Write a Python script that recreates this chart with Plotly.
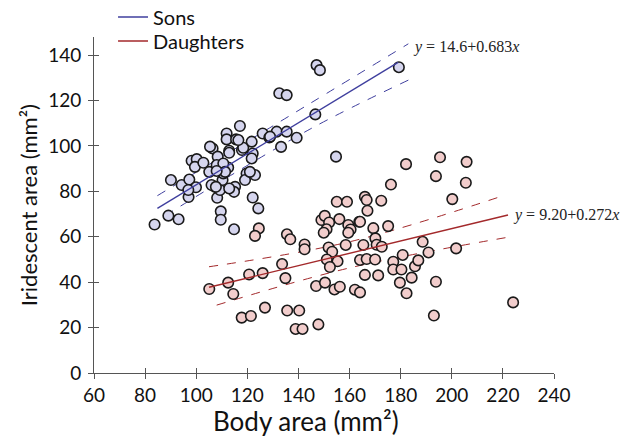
import plotly.graph_objects as go

# ---------------- data ----------------
sons_x = [83.7, 89.1, 93.1, 90.1, 94.3, 97.3, 99.9, 97.0, 96.9, 98.2, 100.2, 99.5, 102.8, 105.1,
          106.4, 108.4, 108.0, 107.3, 108.2, 109.3, 110.3, 112.5, 110.6, 112.9, 111.9, 111.9,
          115.6, 117.1, 117.9, 121.7, 122.1, 121.7, 115.2, 114.8, 112.9, 119.7, 119.1, 123.0,
          121.0, 122.1, 124.3, 109.6, 109.6, 114.8, 126.0, 128.6, 131.5, 135.4, 139.3, 133.2,
          132.5, 135.4, 118.4, 116.5, 147.1, 148.4, 146.6, 154.7, 179.3, 106.0, 105.4, 110.6,
          111.3, 108.0, 107.7, 112.9, 128.9]
sons_y = [65.4, 69.3, 67.7, 85.0, 82.8, 85.2, 81.8, 77.5, 80.6, 93.5, 94.2, 90.8, 92.6, 88.6,
          98.9, 95.3, 91.6, 82.0, 77.2, 80.6, 85.0, 90.5, 87.9, 97.9, 105.5, 102.9,
          102.9, 108.8, 98.2, 101.9, 96.7, 94.5, 82.0, 79.8, 81.3, 87.9, 85.0, 87.2,
          88.6, 77.3, 72.5, 71.2, 67.5, 63.3, 105.5, 103.7, 106.3, 106.3, 103.6, 99.6,
          123.2, 122.4, 99.2, 102.6, 135.6, 133.4, 113.9, 95.3, 134.7, 82.8, 99.7, 92.3,
          88.6, 89.0, 82.0, 97.0, 104.1]

dau_x = [105.1, 112.5, 114.5, 120.7, 126.0, 133.6, 134.9, 117.8, 121.4, 126.9, 135.6, 140.3,
         138.9, 141.6, 147.8, 124.5, 123.0, 135.5, 136.8, 142.4, 142.4,
         146.9, 150.4, 154.1, 156.2, 149.0, 150.3, 152.0, 151.0, 149.9, 155.0, 159.0, 156.0,
         159.5, 160.4, 163.8, 159.5, 151.8, 153.2, 151.1, 155.3, 152.3, 158.5, 164.1, 166.7,
         170.0, 165.4, 166.0, 171.2, 162.1, 164.1, 166.0, 166.7, 172.4, 167.0, 164.1, 169.3,
         175.1, 170.1, 170.6, 172.6, 176.2, 182.1, 195.4, 205.8, 193.8, 205.5, 200.2,
         177.1, 177.1, 180.3, 180.8, 185.6, 186.9, 179.7, 184.3, 182.3, 193.8, 193.0, 188.6,
         190.9, 201.7, 224.0]
dau_y = [37.0, 39.8, 34.8, 43.4, 44.0, 48.0, 41.8, 24.4, 25.1, 28.8, 27.5, 27.5,
         19.4, 19.4, 21.4, 63.7, 60.4, 61.1, 58.9, 56.6, 54.5,
         38.3, 39.8, 36.8, 38.0, 67.4, 69.2, 66.3, 63.3, 61.8, 75.4, 75.4, 67.8,
         65.2, 63.2, 66.6, 61.8, 55.3, 53.4, 50.0, 49.2, 46.7, 56.4, 49.8, 50.2,
         50.0, 56.4, 43.2, 43.0, 36.7, 35.5, 77.6, 76.2, 75.9, 71.5, 66.6, 63.8,
         64.7, 59.3, 56.5, 55.6, 83.0, 92.0, 95.0, 93.0, 86.7, 83.8, 76.6,
         49.0, 45.6, 45.6, 52.0, 47.0, 49.6, 39.8, 42.0, 35.1, 40.2, 25.3, 57.8,
         53.1, 54.9, 31.1]

# fitted regressions (coefficients printed on the chart) and their x extents
sons_fit = (14.6, 0.683)
sons_fit_x = [84.8, 179.0]
dau_fit = (9.20, 0.272)
dau_fit_x = [105.0, 222.0]

# confidence bands (dashed)
sons_up_x = [84.8, 144.5, 183.0]
sons_up_y = [78.1, 118.7, 145.0]
sons_lo_x = [87.8, 144.5, 183.0]
sons_lo_y = [69.3, 107.4, 129.0]
dau_up_x = [105.0, 160.0, 218.0]
dau_up_y = [46.8, 57.8, 77.3]
dau_lo_x = [108.0, 160.0, 221.0]
dau_lo_y = [29.9, 46.3, 59.6]

x_ticks = [60, 80, 100, 120, 140, 160, 180, 200, 220, 240]
y_ticks = [0, 20, 40, 60, 80, 100, 120, 140]

# ---------------- styles ----------------
BLUE = "#3f3f9e"
RED = "#a3292b"
SON_FILL = "#d5d5ee"
DAU_FILL = "#f2cdcc"
EDGE = "#1a1a1a"
FONT = "Lato"

fig = go.Figure()

def line_y(fit, xs):
    return [fit[0] + fit[1] * x for x in xs]

band = dict(width=1, dash="dash", shape="spline")
fig.add_trace(go.Scatter(x=sons_up_x, y=sons_up_y, mode="lines", line=dict(color=BLUE, **band), showlegend=False, hoverinfo="skip"))
fig.add_trace(go.Scatter(x=sons_lo_x, y=sons_lo_y, mode="lines", line=dict(color=BLUE, **band), showlegend=False, hoverinfo="skip"))
fig.add_trace(go.Scatter(x=dau_up_x, y=dau_up_y, mode="lines", line=dict(color=RED, **band), showlegend=False, hoverinfo="skip"))
fig.add_trace(go.Scatter(x=dau_lo_x, y=dau_lo_y, mode="lines", line=dict(color=RED, **band), showlegend=False, hoverinfo="skip"))

# points
fig.add_trace(go.Scatter(x=sons_x, y=sons_y, mode="markers",
                         marker=dict(size=10.5, color=SON_FILL, line=dict(color=EDGE, width=1.6)),
                         showlegend=False))
fig.add_trace(go.Scatter(x=dau_x, y=dau_y, mode="markers",
                         marker=dict(size=10.5, color=DAU_FILL, line=dict(color=EDGE, width=1.6)),
                         showlegend=False))

# fit lines (legend entries, one legend each so spacing can match)
fig.add_trace(go.Scatter(x=sons_fit_x, y=line_y(sons_fit, sons_fit_x), mode="lines",
                         line=dict(color=BLUE, width=1.4), name="Sons", legend="legend"))
fig.add_trace(go.Scatter(x=dau_fit_x, y=line_y(dau_fit, dau_fit_x), mode="lines",
                         line=dict(color=RED, width=1.4), name="Daughters", legend="legend2"))

# helper traces so that the overlay axes (inner tick halves) are drawn
fig.add_trace(go.Scatter(x=[], y=[], xaxis="x2", yaxis="y", showlegend=False))
fig.add_trace(go.Scatter(x=[], y=[], xaxis="x", yaxis="y2", showlegend=False))

eq_font = dict(family="Liberation Serif", size=16, color="#222")
fig.add_annotation(x=184.0, y=143.5, xref="x", yref="y", xanchor="left", yanchor="middle",
                   text="<i>y</i> = 14.6+0.683<i>x</i>", showarrow=False, font=eq_font)
fig.add_annotation(x=223.0, y=69.8, xref="x", yref="y", xanchor="left", yanchor="middle",
                   text="<i>y</i> = 9.20+0.272<i>x</i>", showarrow=False, font=eq_font)

# axis titles
fig.add_annotation(x=0.460, y=-0.143, xref="paper", yref="paper", xanchor="center", yanchor="middle",
                   text="Body area (mm²)", showarrow=False,
                   font=dict(family=FONT, size=26, color="#111"))
fig.add_annotation(x=-0.143, y=0.5, xref="paper", yref="paper", xanchor="center", yanchor="middle",
                   text="Iridescent area (mm²)", showarrow=False, textangle=-90,
                   font=dict(family=FONT, size=22, color="#111"))

axis_common = dict(showgrid=False, zeroline=False, showline=True, linecolor="#555", linewidth=1,
                   ticks="outside", ticklen=5, tickcolor="#555", tickwidth=1, automargin=False,
                   tickfont=dict(family=FONT, size=19, color="#111"))

leg_common = dict(xref="container", yref="container", x=0.180, xanchor="left", yanchor="middle",
                  bgcolor="rgba(0,0,0,0)", font=dict(family=FONT, size=20, color="#111"), itemwidth=30)

fig.update_layout(
    width=628, height=437,
    margin=dict(l=94, r=74, t=37, b=64, autoexpand=False),
    paper_bgcolor="white", plot_bgcolor="white",
    xaxis=dict(range=[60, 240], tickvals=x_ticks, **axis_common),
    yaxis=dict(range=[0, 148], tickvals=y_ticks, ticklabelstandoff=3, **axis_common),
    xaxis2=dict(overlaying="x", anchor="y", range=[60, 240], tickvals=x_ticks, showticklabels=False,
                ticks="inside", ticklen=5, tickcolor="#555", showgrid=False, zeroline=False, showline=False),
    yaxis2=dict(overlaying="y", anchor="x", range=[0, 148], tickvals=y_ticks, showticklabels=False,
                ticks="inside", ticklen=5, tickcolor="#555", showgrid=False, zeroline=False, showline=False),
    legend=dict(y=1 - 17 / 437, **leg_common),
    legend2=dict(y=1 - 41 / 437, **leg_common),
    showlegend=True,
)

fig.write_html("out.html", post_script="document.body.style.margin='0';",
               config={"displayModeBar": False})
